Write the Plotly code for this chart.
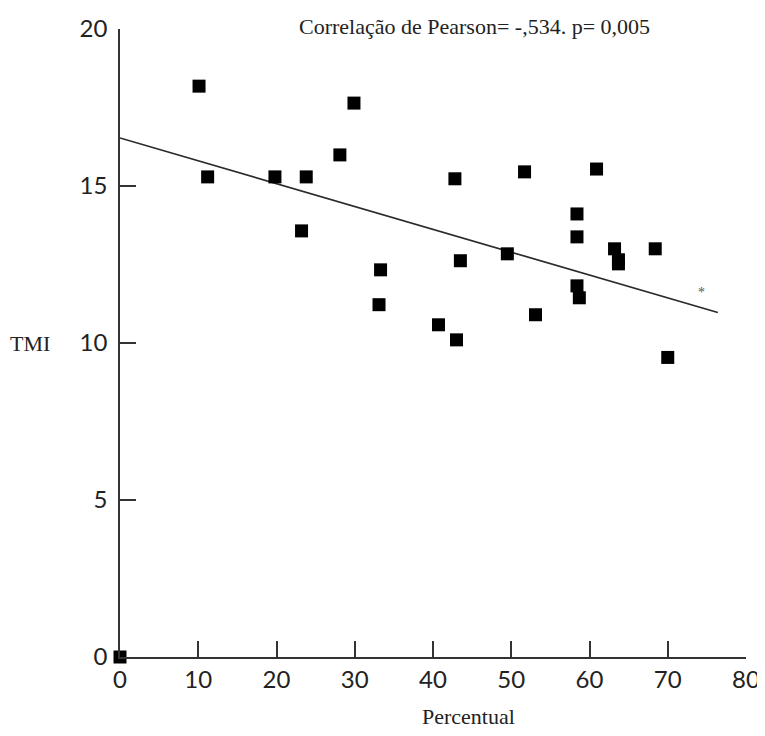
import plotly.graph_objects as go

# Data
percentual = [0, 10.1, 11.2, 19.8, 23.8, 23.2, 28.1, 29.9, 33.3, 33.1, 40.7, 43.0, 42.8, 43.5,
              49.5, 51.7, 53.1, 58.4, 58.4, 58.4, 58.7, 60.9, 63.2, 63.7, 63.7, 68.4, 70.0]
tmi = [0, 18.18, 15.29, 15.29, 15.29, 13.57, 15.99, 17.64, 12.33, 11.22, 10.58, 10.10, 15.23, 12.62,
       12.84, 15.45, 10.90, 14.11, 13.38, 11.82, 11.44, 15.54, 13.00, 12.65, 12.52, 13.00, 9.54]

fit_x = [0, 76.4]
fit_y = [16.53, 10.97]

x_ticks = [0, 10, 20, 30, 40, 50, 60, 70, 80]
y_ticks = [0, 5, 10, 15, 20]

title_text = "Correlação de Pearson= -,534. p= 0,005"
x_label = "Percentual"
y_label = "TMI"
star_pos = (74.3, 11.6)

# page offset (browser body margin)
OFF = 8
W, H = 757, 720
L, R, T, B = 120 - OFF, W - (746 - OFF), 29 - OFF, H - (657 - OFF)
pw, ph = W - L - R, H - T - B


def px(xp):
    return (xp - OFF - L) / pw


def py(yp):
    return (H - B - (yp - OFF)) / ph


fig = go.Figure()
fig.add_trace(go.Scatter(x=fit_x, y=fit_y, mode="lines",
                         line=dict(color="#2a2a2a", width=1.7), showlegend=False, cliponaxis=False))
fig.add_trace(go.Scatter(x=percentual, y=tmi, mode="markers",
                         marker=dict(symbol="square", size=13, color="black"),
                         showlegend=False, cliponaxis=False))

tickfont = dict(family="Lato", size=24, color="#222")
serif = dict(family="Liberation Serif", size=22, color="#222")

fig.update_layout(
    width=W, height=H,
    margin=dict(l=L, r=R, t=T, b=B),
    plot_bgcolor="white", paper_bgcolor="white",
    xaxis=dict(range=[0, 80], tickvals=x_ticks, ticks="inside", ticklen=16, tickwidth=1.5,
               tickcolor="#333", showline=True, linecolor="#333", linewidth=1.5,
               showgrid=False, zeroline=False, tickfont=tickfont, ticklabelstandoff=0,
               ticklabeloverflow="allow", automargin=False),
    yaxis=dict(range=[0, 20], tickvals=y_ticks, ticks="inside", ticklen=16, tickwidth=1.5,
               tickcolor="#333", showline=True, linecolor="#333", linewidth=1.5,
               showgrid=False, zeroline=False, tickfont=tickfont, ticklabelstandoff=6,
               ticklabeloverflow="allow", automargin=False),
    annotations=[
        dict(text=title_text, x=px(474), xref="paper", xanchor="center", y=py(27), yref="paper",
             yanchor="middle", showarrow=False, font=serif),
        dict(text=x_label, x=px(468), xref="paper", xanchor="center", y=py(716), yref="paper",
             yanchor="middle", showarrow=False, font=serif),
        dict(text=y_label, x=px(30), xref="paper", xanchor="center", y=py(343), yref="paper",
             yanchor="middle", showarrow=False, font=serif),
        dict(text="*", x=star_pos[0], y=star_pos[1], xref="x", yref="y", showarrow=False,
             font=dict(family="Liberation Serif", size=14, color="#555")),
    ],
)

fig.write_html("out.html")
